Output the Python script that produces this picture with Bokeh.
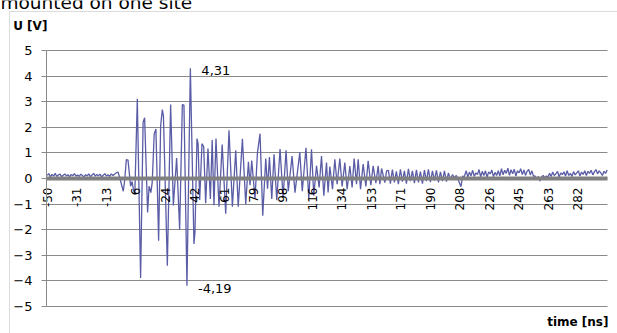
from math import pi

from bokeh.core.properties import value
from bokeh.embed import file_html
from bokeh.models import BoxAnnotation, ColumnDataSource, FixedTicker, Grid, Label
from bokeh.plotting import figure
from bokeh.resources import INLINE

FONT = "DejaVu Sans"
GRID = "#8a8a8a"
TRACE = "#5a5ca6"

# pre-trigger noise, one sample per ns starting at -49.6 ns (V)
pre_start_ns = -49.6
pre_u = [0.12, 0.19, 0.06, 0.16, 0.09, 0.20, 0.08, 0.14, 0.17, 0.07,
         0.13, 0.18, 0.10, 0.15, 0.06, 0.16, 0.11, 0.19, 0.09, 0.14,
         0.08, 0.17, 0.12, 0.06, 0.15, 0.10, 0.18, 0.07, 0.14, 0.20,
         0.09, 0.16, 0.11, 0.17, 0.06, 0.13, 0.19, 0.10, 0.15, 0.08,
         0.18, 0.12, 0.16, 0.22]

# ringing burst, turning points: time (ns) and voltage (V)
burst_t = [-5.35, -4.2, -2.1, -1.2, -0.2, 0.85, 1.6, 2.46, 3.4, 4.2,
           5.1, 6.65, 8.71, 10.27, 11.21, 13.09, 14.0, 15.1, 15.96, 17.21,
           18.27, 19.96, 21.21, 22.27, 22.96, 25.4, 27.46, 29.15, 31.21, 33.09,
           34.77, 35.77, 37.65, 39.77, 42.02, 42.65, 43.9, 44.6, 45.6, 47.02,
           48.08, 49.33, 50.77, 52.27, 53.4, 54.52, 55.77, 57.65, 59.65, 61.84,
           63.9, 66.02, 68.1, 69.65, 72.27, 74.34, 76.02, 77.02, 78.09, 80.15,
           81.65, 83.27, 84.96, 86.84, 87.96, 89.15, 90.59, 92.02, 93.71, 95.77,
           97.65, 99.52, 100.9, 103.27, 105.09, 108.09, 109.65, 111.96, 113.71, 115.4,
           116.84, 118.52, 120.15, 121.65, 123.09, 124.77, 125.77, 126.84, 128.52, 129.96,
           131.4, 133.09, 134.52, 136.21, 137.65, 139.34, 140.77, 142.02, 143.52, 144.52,
           146.02, 147.65, 149.34, 150.77, 152.46, 153.9, 155.59, 157.02, 158.09, 159.15,
           161.21, 162.27, 163.4, 164.65, 165.9, 167.15, 168.4, 169.65, 170.9, 172.15,
           173.4, 174.65, 175.9, 177.15, 178.4, 179.65, 180.9, 182.15, 183.4, 184.65,
           185.9, 187.15, 188.4, 189.65, 190.9, 192.15, 193.4, 194.65, 195.9, 197.15,
           198.4, 199.65, 200.9, 202.15, 203.4, 204.6, 205.8, 207.0, 208.7, 209.8,
           210.5]
burst_u = [0.25, 0.0, -0.5, -0.05, 0.74, 0.72, 0.25, -0.3, -0.12, -0.42,
           -0.62, 3.11, -3.89, 2.2, 2.37, -1.33, -0.3, -0.55, -0.15, 1.75,
           1.93, -2.43, 2.05, 2.69, 2.45, -3.41, 2.89, -1.05, 0.8, -2.0,
           2.89, 2.87, -4.19, 4.31, -2.56, -2.1, 1.56, 1.36, -0.84, 1.36,
           1.25, -0.97, 1.17, -0.8, 1.5, -1.04, 1.56, -1.1, 1.33, -1.38,
           1.88, -1.1, 1.1, -1.1, 1.55, -1.0, 0.65, -0.26, 0.7, -0.78,
           1.0, 1.75, -1.45, 0.78, -0.4, 0.84, -0.8, 0.95, -0.85, 1.15,
           -0.75, 1.1, -0.5, 0.88, -0.55, 1.02, -0.5, 1.2, -0.8, 1.14,
           -0.67, 0.5, -0.35, 0.88, -0.67, 0.62, -0.55, 0.47, -0.42, 0.75,
           -0.22, 0.78, -0.31, 0.62, -0.42, 0.49, -0.35, 0.78, -0.22, 0.75,
           -0.42, 0.56, -0.31, 0.69, -0.26, 0.49, -0.18, 0.49, -0.22, 0.39,
           -0.16, 0.3, 0.32, -0.2, 0.35, -0.15, 0.28, -0.22, 0.36, -0.12,
           0.3, -0.2, 0.38, -0.1, 0.3, -0.18, 0.34, -0.15, 0.27, -0.2,
           0.33, -0.1, 0.36, -0.14, 0.3, -0.08, 0.32, -0.15, 0.26, -0.1,
           0.3, -0.12, 0.22, -0.05, 0.15, 0.02, 0.12, -0.05, -0.32, 0.1,
           0.05]

# ring-down tail noise, one sample per ns starting at 211 ns (V)
tail_start_ns = 211.0
tail_u = [0.12, 0.30, 0.05, 0.25, 0.10, 0.32, 0.08, 0.22, 0.15, 0.35, 0.06, 0.28,
          0.12, 0.30, 0.04, 0.26, 0.18, 0.33, 0.07, 0.24, 0.12, 0.30, 0.10,
          0.38, 0.14, 0.32, 0.20, 0.40, 0.12, 0.34, 0.18, 0.36, 0.10, 0.30,
          0.22, 0.38, 0.15, 0.33, 0.12, 0.28, 0.35, 0.14, 0.30, 0.08,
          0.10, -0.05, 0.08, -0.10, 0.05, 0.12, 0.02, 0.10, 0.06,
          0.20, 0.08, 0.25, 0.12, 0.18, 0.28, 0.06, 0.22, 0.15, 0.26,
          0.10, 0.30, 0.12, 0.20, 0.08, 0.27, 0.14, 0.22, 0.30, 0.10,
          0.25, 0.16, 0.30, 0.12, 0.28, 0.20, 0.32, 0.14, 0.26, 0.35,
          0.18, 0.30, 0.22, 0.12, 0.28, 0.20, 0.33]

# category labels along the time axis
x_tick_pos = [-49.6, -31.2, -12.8, 5.6, 24.0, 42.4, 60.8, 79.2, 97.6, 116.0,
              134.4, 152.8, 171.2, 189.6, 208.0, 226.4, 244.8, 263.2, 281.6]
x_tick_labels = ["-50", "-31", "-13", "6", "24", "42", "61", "79", "98", "116",
                 "134", "153", "171", "190", "208", "226", "245", "263", "282"]
y_ticks = [-5, -4, -3, -2, -1, 0, 1, 2, 3, 4, 5]

pre_t = [pre_start_ns + i for i in range(len(pre_u))]
tail_t = [tail_start_ns + i for i in range(len(tail_u))]
t_all = pre_t + burst_t + tail_t
u_all = pre_u + burst_u + tail_u

# plot-area extent in data units; the canvas around it holds titles and labels
x_lo, x_hi = -50.04, 300.2
y_lo, y_hi = -5, 5

p = figure(width=617, height=333, x_range=(-78.76, 306.44), y_range=(-6.055, 6.953),
           output_backend="svg", toolbar_location=None,
           min_border_left=0, min_border_right=0, min_border_top=0, min_border_bottom=0)
p.outline_line_color = None
p.background_fill_color = "white"
p.border_fill_color = "white"

# horizontal grid across the plot area
p.xgrid.visible = False
p.ygrid.ticker = FixedTicker(ticks=y_ticks)
p.ygrid.grid_line_color = GRID
p.ygrid.grid_line_width = 1
if "cross_bounds" in Grid.properties():
    p.ygrid.cross_bounds = (x_lo, x_hi)
else:
    p.ygrid.visible = False
    p.segment(x0=x_lo, x1=x_hi, y0=y_ticks, y1=y_ticks, line_color=GRID,
              line_width=1, level="underlay")

# voltage axis on the left edge of the plot area
p.yaxis.fixed_location = x_lo
p.yaxis.bounds = (y_lo, y_hi)
p.yaxis.ticker = FixedTicker(ticks=y_ticks)
p.yaxis.axis_line_color = GRID
p.yaxis.major_tick_line_color = GRID
p.yaxis.minor_tick_line_color = None
p.yaxis.major_tick_out = 5
p.yaxis.major_tick_in = 0
p.yaxis.major_label_standoff = 9
p.yaxis.major_label_text_font = FONT
p.yaxis.major_label_text_font_size = "13px"
p.yaxis.major_label_text_color = "black"

# time axis running through zero
p.xaxis.fixed_location = 0
p.xaxis.bounds = (x_lo, x_hi)
p.xaxis.ticker = FixedTicker(ticks=x_tick_pos)
p.xaxis.major_label_overrides = dict(zip(x_tick_pos, x_tick_labels))
p.xaxis.major_label_orientation = pi / 2
p.xaxis.axis_line_color = "#808080"
p.xaxis.axis_line_width = 4
p.xaxis.major_tick_line_color = None
p.xaxis.minor_tick_line_color = None
p.xaxis.major_tick_out = 0
p.xaxis.major_tick_in = 0
p.xaxis.major_label_standoff = 9
p.xaxis.major_label_text_font = FONT
p.xaxis.major_label_text_font_size = "12px"
p.xaxis.major_label_text_color = "black"

p.line(t_all, u_all, line_color=TRACE, line_width=1.3)

# peak annotations taken from the trace itself
i_max = max(range(len(burst_u)), key=lambda i: burst_u[i])
i_min = min(range(len(burst_u)), key=lambda i: burst_u[i])
peaks = ColumnDataSource(dict(
    x=[burst_t[i_max], burst_t[i_min]],
    y=[burst_u[i_max], burst_u[i_min]],
    txt=[f"{burst_u[i_max]:.2f}".replace(".", ","), f"{burst_u[i_min]:.2f}".replace(".", ",")],
    dy=[2, 3],
))
p.text(x="x", y="y", text="txt", source=peaks, x_offset=11, y_offset="dy",
       text_font=value(FONT), text_font_size="13px", text_color="black",
       text_baseline="middle", text_align="left")

# axis titles and chart title
p.add_layout(Label(x=-70.83, y=5.94, text="U [V]", text_font=FONT, text_font_style="bold",
                   text_font_size="12px", text_baseline="middle", text_color="black"))
p.add_layout(Label(x=300.8, y=-5.625, text="time [ns]", text_font=FONT, text_font_style="bold",
                   text_font_size="12px", text_baseline="middle", text_align="right",
                   text_color="black"))
p.add_layout(Label(x=-78.76, y=6.875, text="mounted on one site", text_font=FONT,
                   text_font_size="18.5px", text_baseline="alphabetic", text_color="black"))

# chart area border
p.add_layout(BoxAnnotation(left=-73.14, right=330.0, top=6.523, bottom=-8.0,
                           fill_alpha=0, line_color=GRID, line_width=1))

open("out.html", "w").write(file_html(p, INLINE))
